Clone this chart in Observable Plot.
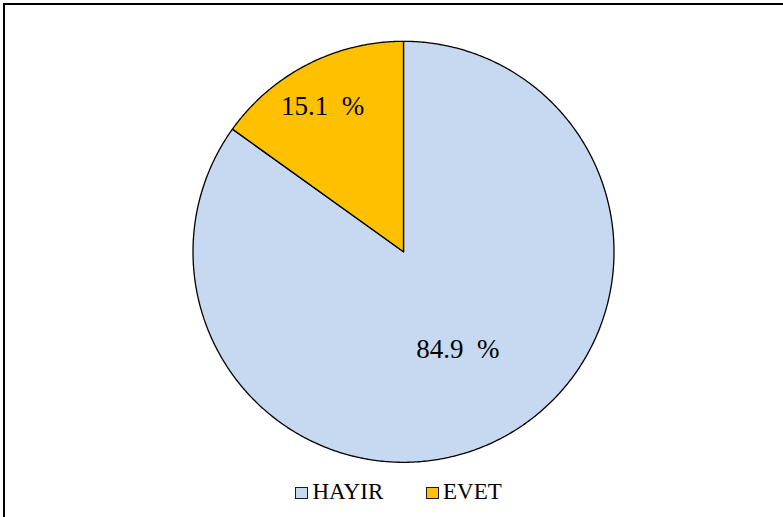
<!DOCTYPE html>
<html>
<head>
<meta charset="utf-8">
<script src="https://cdn.jsdelivr.net/npm/d3@7"></script>
<script src="https://cdn.jsdelivr.net/npm/@observablehq/plot@0.6"></script>
<style>
  html, body { margin: 0; padding: 0; background: #fff; overflow: hidden; }
  #wrap { position: relative; width: 783px; height: 517px; font-family: 'Liberation Serif', serif; }
  #frame { position: absolute; left: 3px; top: 3px; width: 800px; height: 540px; border: 2px solid #000; box-sizing: border-box; pointer-events: none; }
  #chart svg { display: block; }
  #legend { position: absolute; left: 0; top: 470px; width: 783px; height: 47px; }
  .sw { position: absolute; width: 13px; height: 12px; border: 1px solid #1a1a1a; box-sizing: border-box; }
  .lbl { position: absolute; font-family: 'Liberation Serif', serif; font-size: 23px; line-height: 23px; color: #000; white-space: nowrap; }
</style>
</head>
<body>
<div id="wrap">
  <div id="chart"></div>
  <div id="legend"></div>
  <div id="frame"></div>
</div>
<script>
const categories = ["HAYIR", "EVET"];
const values = [84.9, 15.1];
const colors = ["#C6D9F1", "#FFC000"];

// layout constants
const labelRadius = [0.532, 0.792];
const labelShift = -1.85 * Math.PI / 180; // slight counter-clockwise shift
const total = d3.sum(values);
const serif = "'Liberation Serif', serif";

// build slice polygons (angles clockwise from 12 o'clock)
const slices = [];
const labels = [];
let start = 0;
categories.forEach((c, i) => {
  const end = start + values[i] / total * 2 * Math.PI;
  const n = Math.max(8, Math.ceil((end - start) / (Math.PI / 360)));
  slices.push({category: c, x: 0, y: 0});
  for (let k = 0; k <= n; k++) {
    const a = start + (end - start) * k / n;
    slices.push({category: c, x: Math.sin(a), y: Math.cos(a)});
  }
  slices.push({category: c, x: 0, y: 0});
  const mid = (start + end) / 2 + labelShift;
  labels.push({
    category: c,
    text: d3.format(".1f")(values[i]) + "\u00a0\u00a0%",
    x: labelRadius[i] * Math.sin(mid),
    y: labelRadius[i] * Math.cos(mid)
  });
  start = end;
});

const W = 783, H = 470;
const cx = 403, cy = 251.3, R = 210.5;

const plot = Plot.plot({
  width: W,
  height: H,
  marginLeft: cx - R,
  marginRight: W - (cx + R),
  marginTop: cy - R,
  marginBottom: H - (cy + R),
  x: {domain: [-1, 1], axis: null},
  y: {domain: [-1, 1], axis: null},
  color: {domain: categories, range: colors},
  style: {fontFamily: serif, background: "transparent"},
  marks: [
    Plot.line(slices, {x: "x", y: "y", z: "category", fill: "category", stroke: "#000", strokeWidth: 1.3, strokeLinejoin: "round"}),
    Plot.text(labels, {x: "x", y: "y", text: "text", fontSize: 27, fontFamily: serif, fill: "#000"})
  ]
});
document.getElementById("chart").appendChild(plot);

// legend
const legend = document.getElementById("legend");
const legendX = [295, 425.5];
categories.forEach((c, i) => {
  const sw = document.createElement("div");
  sw.className = "sw";
  sw.style.left = legendX[i] + "px";
  sw.style.top = "16.7px";
  sw.style.background = colors[i];
  legend.appendChild(sw);
  const t = document.createElement("div");
  t.className = "lbl";
  t.style.fontFamily = serif;
  t.style.left = (legendX[i] + 17.5) + "px";
  t.style.top = "10px";
  t.textContent = c;
  legend.appendChild(t);
});
</script>
</body>
</html>
